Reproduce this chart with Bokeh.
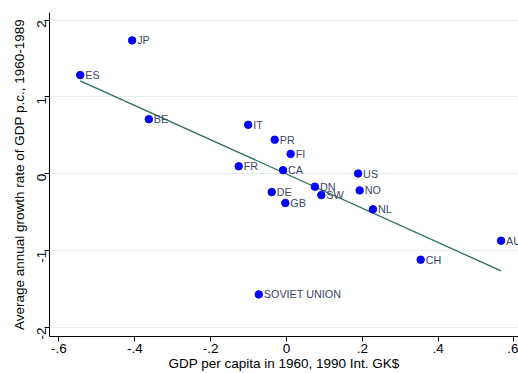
import numpy as np
from bokeh.plotting import figure
from bokeh.models import ColumnDataSource, FixedTicker, LabelSet
from bokeh.core.properties import value
from bokeh.embed import file_html
from bokeh.resources import INLINE
import math

countries = ["JP", "ES", "BE", "IT", "PR", "FI", "FR", "CA", "US", "DE", "DN",
             "NO", "SW", "GB", "NL", "AU", "CH", "SOVIET UNION"]
gdp_1960 = [-0.407, -0.544, -0.363, -0.101, -0.031, 0.011, -0.126, -0.009, 0.189,
            -0.039, 0.075, 0.193, 0.092, -0.003, 0.228, 0.566, 0.354, -0.073]
growth = [1.737, 1.285, 0.711, 0.638, 0.444, 0.259, 0.098, 0.047, 0.004,
          -0.238, -0.168, -0.216, -0.277, -0.380, -0.462, -0.871, -1.118, -1.570]

x_ticks = [-0.6, -0.4, -0.2, 0, 0.2, 0.4, 0.6]
x_tick_labels = ["-.6", "-.4", "-.2", "0", ".2", ".4", ".6"]
y_ticks = [-2, -1, 0, 1, 2]
y_tick_labels = ["-2", "-1", "0", "1", "2"]

# OLS fit
slope, intercept = np.polyfit(gdp_1960, growth, 1)
fx = [min(gdp_1960), max(gdp_1960)]
fy = [intercept + slope * v for v in fx]

p = figure(width=518, height=373, output_backend="svg", toolbar_location=None,
           x_range=(-0.625, 0.612), y_range=(-2.118, 2.1),
           min_border_left=49, min_border_right=0, min_border_top=12, min_border_bottom=35)
p.outline_line_color = None
p.background_fill_color = "white"
p.border_fill_color = "white"

p.line(fx, fy, line_color="#2a6e5c", line_width=1.3)

src = ColumnDataSource(dict(x=gdp_1960, y=growth, name=countries))
p.scatter("x", "y", source=src, size=7.5, fill_color="#0000ff", line_color="#0000ff")
labels = LabelSet(x="x", y="y", text="name", source=src, x_offset=5, y_offset=0,
                  text_baseline="middle", text_font=value("Liberation Sans"),
                  text_font_size="10.8px", text_color="#3b4568")
p.add_layout(labels)

p.xaxis.ticker = FixedTicker(ticks=x_ticks)
p.xaxis.major_label_overrides = {t: l for t, l in zip(x_ticks, x_tick_labels)}
p.yaxis.ticker = FixedTicker(ticks=y_ticks)
p.yaxis.major_label_overrides = {t: l for t, l in zip(y_ticks, y_tick_labels)}
p.yaxis.major_label_orientation = math.pi / 2

p.xaxis.axis_label = "GDP per capita in 1960, 1990 Int. GK$"
p.yaxis.axis_label = "Average annual growth rate of GDP p.c., 1960-1989"
for ax in (p.xaxis, p.yaxis):
    ax.axis_label_text_font = "Liberation Sans"
    ax.axis_label_text_font_style = "normal"
    ax.axis_label_text_font_size = "13.5px"
    ax.axis_label_text_color = "black"
    ax.major_label_text_font = "Liberation Sans"
    ax.major_label_text_font_size = "13.5px"
    ax.major_label_text_color = "black"
    ax.minor_tick_line_color = None
    ax.major_tick_in = 0
    ax.major_tick_out = 5
    ax.axis_line_color = "black"
    ax.major_tick_line_color = "black"
p.xaxis.axis_label_standoff = 0
p.yaxis.axis_label_standoff = 3
p.xaxis.major_label_standoff = 2
p.yaxis.major_label_standoff = 3

p.xgrid.grid_line_color = None
p.ygrid.grid_line_color = "#e6efef"
p.ygrid.ticker = FixedTicker(ticks=y_ticks)

open("out.html", "w").write(file_html(p, INLINE))
